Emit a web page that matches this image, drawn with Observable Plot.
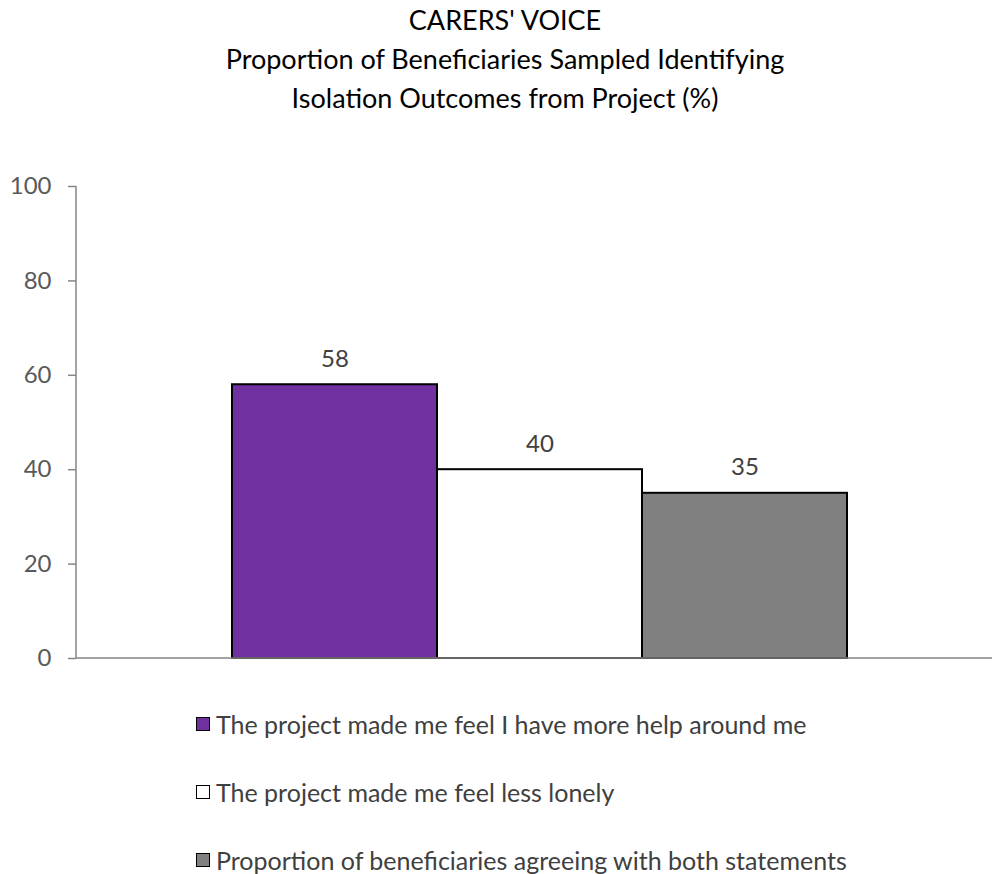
<!DOCTYPE html>
<html>
<head>
<meta charset="utf-8">
<script src="https://cdn.jsdelivr.net/npm/d3@7"></script>
<script src="https://cdn.jsdelivr.net/npm/@observablehq/plot@0.6"></script>
<style>
  html, body { margin: 0; padding: 0; background: #fff; }
  body { width: 994px; height: 874px; overflow: hidden; font-family: Lato, "Open Sans", sans-serif; }
  #title { height: 130px; text-align: center; color: #000; font-size: 27px; line-height: 39px; padding-top: 0; box-sizing: border-box; padding-left: 16px; }
  #legend { position: relative; height: 194px; color: #404040; font-size: 25px; }
  .item { position: absolute; left: 196px; display: flex; align-items: center; height: 30px; white-space: nowrap; }
  .sw { width: 12px; height: 12px; border: 1.5px solid #000; margin-right: 6px; flex: none; }
</style>
</head>
<body>
<div id="title"></div>
<div id="chart"></div>
<div id="legend"></div>
<script>
const titleLines = ["CARERS' VOICE", "Proportion of Beneficiaries Sampled Identifying", "Isolation Outcomes from Project (%)"];
const series = ["The project made me feel I have more help around me", "The project made me feel less lonely", "Proportion of beneficiaries agreeing with both statements"];
const values = [58, 40, 35];
const colors = ["#7030A0", "#FFFFFF", "#808080"];
const yTicks = [0, 20, 40, 60, 80, 100];

const data = series.map((s, i) => ({series: s, value: values[i]}));

document.getElementById("title").innerHTML = titleLines.map(t => `<div>${t}</div>`).join("");

const axisLine = (index, scales, values, dims) => {
  const g = d3.create("svg:g");
  const x0 = dims.marginLeft;
  g.append("line").attr("x1", x0).attr("x2", x0)
    .attr("y1", scales.y(100)).attr("y2", scales.y(0))
    .attr("stroke", "#868686").attr("stroke-width", 1.5);
  g.append("line").attr("x1", x0).attr("x2", dims.width - 2)
    .attr("y1", scales.y(0)).attr("y2", scales.y(0))
    .attr("stroke", "#868686").attr("stroke-width", 1.5);
  return g.node();
};

const chart = Plot.plot({
  width: 994,
  height: 550,
  marginLeft: 76,
  marginRight: 0,
  marginTop: 56,
  marginBottom: 22,
  style: {fontFamily: "Lato, 'Open Sans', sans-serif", fontSize: "24px", color: "#595959", background: "white"},
  x: {domain: series, range: [231, 848], padding: 0, axis: null},
  y: {domain: [0, 100], ticks: yTicks},
  color: {domain: series, range: colors},
  marks: [
    Plot.axisY({ticks: yTicks, tickSize: 8, tickPadding: 17, stroke: "#868686", strokeWidth: 1.5, fill: "#595959", fontSize: 24, label: null}),
    Plot.barY(data, {x: "series", y: "value", fill: "series", stroke: "#000", strokeWidth: 2}),
    axisLine,
    Plot.text(data, {x: "series", y: "value", text: d => String(d.value), lineAnchor: "bottom", dy: -18, fill: "#404040", fontSize: 24})
  ]
});
document.getElementById("chart").appendChild(chart);

const legend = document.getElementById("legend");
const centers = [44, 112, 180];
series.forEach((s, i) => {
  const item = document.createElement("div");
  item.className = "item";
  item.style.top = (centers[i] - 15) + "px";
  item.innerHTML = `<span class="sw" style="background:${colors[i]}"></span><span>${s}</span>`;
  legend.appendChild(item);
});
</script>
</body>
</html>
